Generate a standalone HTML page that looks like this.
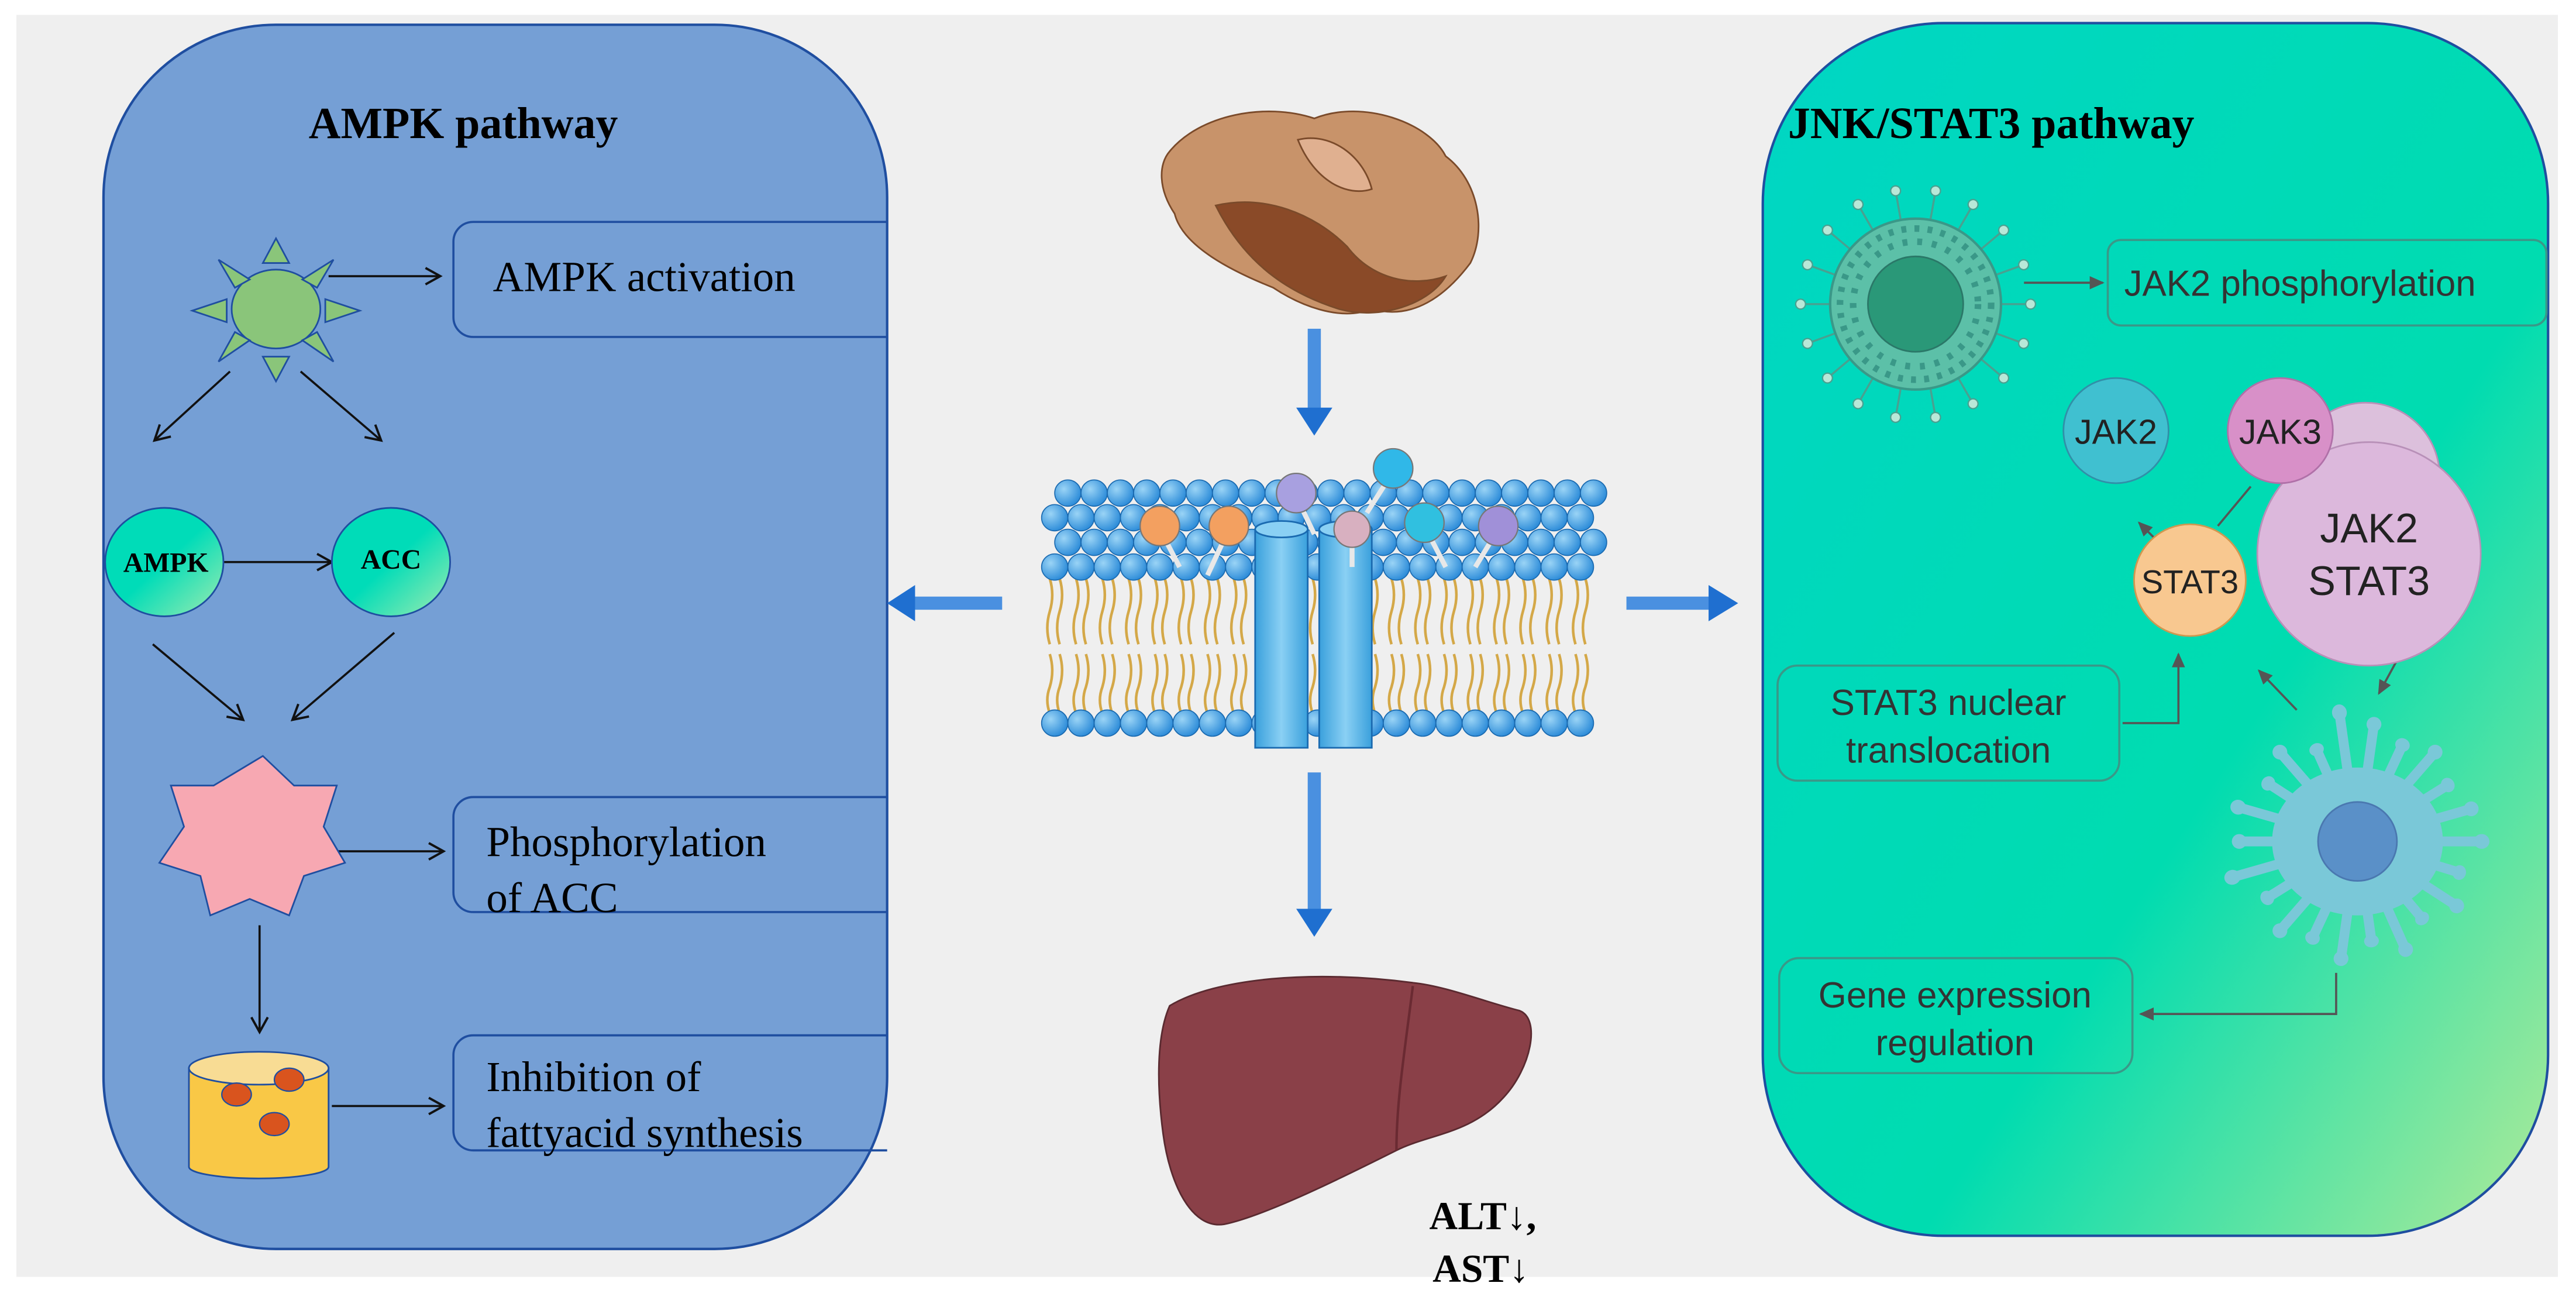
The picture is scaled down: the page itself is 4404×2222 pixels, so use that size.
<!DOCTYPE html>
<html><head><meta charset="utf-8"><style>
html,body{margin:0;padding:0;background:#fff;}
svg{display:block;}
.serif{font-family:"Liberation Serif",serif;}
.sans{font-family:"Liberation Sans",sans-serif;}
</style></head><body>
<svg width="4404" height="2222" viewBox="0 0 1568 791" xmlns="http://www.w3.org/2000/svg" xmlns:xlink="http://www.w3.org/1999/xlink">
<defs>
<marker id="ah" markerWidth="12" markerHeight="12" refX="10" refY="6" orient="auto" markerUnits="userSpaceOnUse"><path d="M1,1 L10,6 L1,11" fill="none" stroke="#111" stroke-width="1.4"/></marker>
<marker id="gh" markerWidth="10" markerHeight="10" refX="8" refY="5" orient="auto" markerUnits="userSpaceOnUse"><path d="M0,1 L9,5 L0,9 Z" fill="#555"/></marker>
<linearGradient id="tg" x1="0" y1="0" x2="1" y2="1"><stop offset="0.5" stop-color="#00dcb8"/><stop offset="1" stop-color="#a0ecb0"/></linearGradient>
<linearGradient id="rp" x1="0" y1="0" x2="1" y2="1"><stop offset="0" stop-color="#00d6c4"/><stop offset="0.6" stop-color="#00dcb0"/><stop offset="1" stop-color="#b0ea98"/></linearGradient>
<radialGradient id="bh" cx="0.35" cy="0.35" r="0.7"><stop offset="0" stop-color="#9ad4f6"/><stop offset="1" stop-color="#2a8ad8"/></radialGradient>
<linearGradient id="ch" x1="0" y1="0" x2="1" y2="0"><stop offset="0" stop-color="#3aa0dc"/><stop offset="0.5" stop-color="#8ad0f4"/><stop offset="1" stop-color="#3aa0dc"/></linearGradient>
<g id="hd"><circle cx="0" cy="0" r="8" fill="url(#bh)" stroke="#1a6ab0" stroke-width="0.6"/></g>
<g id="row">
<use xlink:href="#hd" x="0"/><use xlink:href="#hd" x="16"/><use xlink:href="#hd" x="32"/><use xlink:href="#hd" x="48"/><use xlink:href="#hd" x="64"/><use xlink:href="#hd" x="80"/><use xlink:href="#hd" x="96"/><use xlink:href="#hd" x="112"/><use xlink:href="#hd" x="128"/><use xlink:href="#hd" x="144"/><use xlink:href="#hd" x="160"/><use xlink:href="#hd" x="176"/><use xlink:href="#hd" x="192"/><use xlink:href="#hd" x="208"/><use xlink:href="#hd" x="224"/><use xlink:href="#hd" x="240"/><use xlink:href="#hd" x="256"/><use xlink:href="#hd" x="272"/><use xlink:href="#hd" x="288"/><use xlink:href="#hd" x="304"/><use xlink:href="#hd" x="320"/>
</g>
<path id="tl" d="M639,352 q3,10 0,20 q-3,10 0,20 M645,352 q3,10 0,20 q-3,10 0,20 M639,398 q3,10 0,20 q-3,8 0,16 M645,398 q3,10 0,20 q-3,8 0,16" fill="none" stroke="#d4a848" stroke-width="1.6"/>
<g id="sp1"><line x1="50" y1="0" x2="68" y2="0" stroke="#4aa090" stroke-width="1.2"/><circle cx="70" cy="0" r="3" fill="#b8e8d8" stroke="#4aa090" stroke-width="0.8"/></g>
<g id="sp2"><line x1="0" y1="0" x2="72" y2="0" stroke="#7ac8d8" stroke-width="6" stroke-linecap="round"/><circle cx="72" cy="0" r="4.5" fill="#7ac8d8"/></g>
</defs>
<rect x="10" y="9" width="1547" height="768" fill="#efefef"/>

<!-- LEFT PANEL -->
<rect x="63" y="15" width="477" height="745" rx="105" fill="#759fd5" stroke="#1f4ea0" stroke-width="1.5"/>
<text x="282" y="84" class="serif" font-size="27" font-weight="bold" text-anchor="middle">AMPK pathway</text>

<g stroke="#1f4ea0" stroke-width="1">
<ellipse cx="168" cy="188" rx="27" ry="24" fill="#8ac57a"/>
<g fill="#8ac57a">
<polygon points="168,145 160,160 176,160"/>
<polygon points="168,232 160,217 176,217"/>
<polygon points="117,189 138,182 138,196"/>
<polygon points="219,189 198,182 198,196"/>
<polygon points="133,158 152,170 143,175"/><polygon points="203,158 184,170 193,175"/>
<polygon points="133,220 152,207 143,202"/><polygon points="203,220 184,207 193,202"/>
</g></g>
<g stroke="#111" stroke-width="1.3" fill="none" marker-end="url(#ah)">
<line x1="200" y1="168" x2="268" y2="168"/>
<line x1="140" y1="226" x2="94" y2="268"/>
<line x1="183" y1="226" x2="232" y2="268"/>
<line x1="136" y1="342" x2="202" y2="342"/>
<line x1="93" y1="392" x2="148" y2="438"/>
<line x1="240" y1="385" x2="178" y2="438"/>
<line x1="203" y1="518" x2="270" y2="518"/>
<line x1="158" y1="563" x2="158" y2="628"/>
<line x1="202" y1="673" x2="270" y2="673"/>
</g>
<g fill="none" stroke="#1f4ea0" stroke-width="1.3">
<path d="M540,135 H288 a12,12 0 0 0 -12,12 V193 a12,12 0 0 0 12,12 H540"/>
<path d="M540,485 H288 a12,12 0 0 0 -12,12 V543 a12,12 0 0 0 12,12 H540"/>
<path d="M540,630 H288 a12,12 0 0 0 -12,12 V688 a12,12 0 0 0 12,12 H540"/>
</g>
<text x="300" y="177" class="serif" font-size="26">AMPK activation</text>
<text x="296" y="521" class="serif" font-size="26">Phosphorylation</text>
<text x="296" y="555" class="serif" font-size="26">of ACC</text>
<text x="296" y="664" class="serif" font-size="26">Inhibition of</text>
<text x="296" y="698" class="serif" font-size="26">fattyacid synthesis</text>

<ellipse cx="100" cy="342" rx="36" ry="33" fill="url(#tg)" stroke="#1f4ea0" stroke-width="1"/>
<ellipse cx="238" cy="342" rx="36" ry="33" fill="url(#tg)" stroke="#1f4ea0" stroke-width="1"/>
<text x="101" y="348" class="serif" font-size="17" font-weight="bold" text-anchor="middle">AMPK</text>
<text x="238" y="346" class="serif" font-size="17" font-weight="bold" text-anchor="middle">ACC</text>

<polygon points="160,460 179,478 205,478 197,503 210,525 185,533 176,557 152,547 128,557 122,533 97,525 112,503 104,478 130,478" fill="#f7a8b2" stroke="#1f4ea0" stroke-width="1"/>

<path d="M115,650 L115,710 A42,7 0 0 0 200,710 L200,650 Z" fill="#f9c846" stroke="#1f4ea0" stroke-width="1"/>
<ellipse cx="157.5" cy="650" rx="42.5" ry="10" fill="#f8dc94" stroke="#1f4ea0" stroke-width="1"/>
<g fill="#d9541e" stroke="#1f4ea0" stroke-width="0.8">
<ellipse cx="176" cy="657" rx="9" ry="7"/><ellipse cx="144" cy="666" rx="9" ry="7"/><ellipse cx="167" cy="684" rx="9" ry="7"/>
</g>

<!-- CENTER -->
<g stroke="#7a4a2a" stroke-width="1">
<path d="M712,92 C730,70 770,62 800,72 C830,60 870,75 880,95 C900,110 905,140 895,160 C880,180 860,195 835,188 C815,196 790,185 775,175 C750,165 720,150 715,130 C705,115 705,100 712,92 Z" fill="#c8936a"/>
<path d="M740,125 C770,118 800,130 820,150 C835,170 860,175 880,168 C870,185 840,195 815,188 C790,180 760,165 740,125 Z" fill="#8a4a28"/>
<path d="M790,85 C810,80 830,95 835,115 C820,120 800,110 790,85 Z" fill="#e0b090"/>
</g>
<rect x="796" y="200" width="8" height="50" fill="#4a90e0"/>
<polygon points="789,248 811,248 800,265" fill="#1f6fd0"/>
<rect x="796" y="470" width="8" height="85" fill="#4a90e0"/>
<polygon points="789,553 811,553 800,570" fill="#1f6fd0"/>
<rect x="555" y="363" width="55" height="8" fill="#4a90e0"/>
<polygon points="557,356 557,378 540,367" fill="#1f6fd0"/>
<rect x="990" y="363" width="52" height="8" fill="#4a90e0"/>
<polygon points="1040,356 1040,378 1058,367" fill="#1f6fd0"/>

<!-- membrane -->
<use xlink:href="#tl" x="0"/>
<use xlink:href="#tl" x="16"/><use xlink:href="#tl" x="32"/><use xlink:href="#tl" x="48"/><use xlink:href="#tl" x="64"/><use xlink:href="#tl" x="80"/><use xlink:href="#tl" x="96"/><use xlink:href="#tl" x="112"/><use xlink:href="#tl" x="128"/><use xlink:href="#tl" x="144"/><use xlink:href="#tl" x="160"/><use xlink:href="#tl" x="176"/><use xlink:href="#tl" x="192"/><use xlink:href="#tl" x="208"/><use xlink:href="#tl" x="224"/><use xlink:href="#tl" x="240"/><use xlink:href="#tl" x="256"/><use xlink:href="#tl" x="272"/><use xlink:href="#tl" x="288"/><use xlink:href="#tl" x="304"/><use xlink:href="#tl" x="320"/>
<use xlink:href="#row" x="650" y="300"/>
<use xlink:href="#row" x="642" y="315"/>
<use xlink:href="#row" x="650" y="330"/>
<use xlink:href="#row" x="642" y="345"/>
<use xlink:href="#row" x="642" y="440"/>
<g>
<rect x="764" y="322" width="32" height="133" fill="url(#ch)" stroke="#1a6ab0"/>
<ellipse cx="780" cy="322" rx="16" ry="5" fill="#8ad0f4" stroke="#1a6ab0"/>
<rect x="803" y="322" width="32" height="133" fill="url(#ch)" stroke="#1a6ab0"/>
<ellipse cx="819" cy="322" rx="16" ry="5" fill="#8ad0f4" stroke="#1a6ab0"/>
</g>
<g stroke="#e8e8e8" stroke-width="3">
<line x1="706" y1="322" x2="718" y2="345"/><line x1="748" y1="322" x2="735" y2="350"/>
<line x1="789" y1="302" x2="800" y2="325"/><line x1="848" y1="287" x2="832" y2="312"/>
<line x1="823" y1="324" x2="823" y2="345"/><line x1="867" y1="320" x2="880" y2="345"/>
<line x1="912" y1="322" x2="898" y2="345"/>
</g>
<g stroke="#777" stroke-width="0.8">
<circle cx="706" cy="320" r="12" fill="#f3a060"/><circle cx="748" cy="320" r="12" fill="#f3a060"/>
<circle cx="789" cy="300" r="12" fill="#a8a0e0"/><circle cx="848" cy="285" r="12" fill="#30b8e8"/>
<circle cx="823" cy="322" r="11" fill="#d8b0c0"/><circle cx="867" cy="318" r="12" fill="#30c0e0"/>
<circle cx="912" cy="320" r="12" fill="#a090d8"/>
</g>

<!-- liver -->
<path d="M712,612 C740,595 800,590 860,598 C880,600 905,610 925,615 C938,620 932,650 915,668 C895,690 870,690 850,700 C820,715 770,740 745,745 C725,748 712,720 708,690 C704,660 704,630 712,612 Z" fill="#8a4048" stroke="#5a2a30" stroke-width="1"/>
<path d="M860,600 C855,640 850,670 850,700" fill="none" stroke="#6a2a32" stroke-width="1.5"/>
<text x="870" y="748" class="serif" font-size="24" font-weight="bold">ALT↓,</text>
<text x="872" y="780" class="serif" font-size="24" font-weight="bold">AST↓</text>

<!-- RIGHT PANEL -->
<rect x="1073" y="14" width="478" height="738" rx="110" fill="url(#rp)" stroke="#1f4ea0" stroke-width="1.5"/>
<text x="1212" y="84" class="serif" font-size="27" font-weight="bold" text-anchor="middle">JNK/STAT3 pathway</text>

<!-- cell 1 -->
<g transform="translate(1166,185)">
<use xlink:href="#sp1" transform="rotate(0)"/><use xlink:href="#sp1" transform="rotate(20)"/><use xlink:href="#sp1" transform="rotate(40)"/><use xlink:href="#sp1" transform="rotate(60)"/><use xlink:href="#sp1" transform="rotate(80)"/><use xlink:href="#sp1" transform="rotate(100)"/><use xlink:href="#sp1" transform="rotate(120)"/><use xlink:href="#sp1" transform="rotate(140)"/><use xlink:href="#sp1" transform="rotate(160)"/><use xlink:href="#sp1" transform="rotate(180)"/><use xlink:href="#sp1" transform="rotate(200)"/><use xlink:href="#sp1" transform="rotate(220)"/><use xlink:href="#sp1" transform="rotate(240)"/><use xlink:href="#sp1" transform="rotate(260)"/><use xlink:href="#sp1" transform="rotate(280)"/><use xlink:href="#sp1" transform="rotate(300)"/><use xlink:href="#sp1" transform="rotate(320)"/><use xlink:href="#sp1" transform="rotate(340)"/>
<circle r="52" fill="#5cc0a8" stroke="#3a9888" stroke-width="1.5"/>
<circle r="46" fill="none" stroke="#3a9888" stroke-width="4" stroke-dasharray="3 5"/>
<circle r="38" fill="none" stroke="#3a9888" stroke-width="4" stroke-dasharray="3 6"/>
<circle r="29" fill="#2a9878" stroke="#2a7868"/>
</g>
<!-- cell 2 -->
<g transform="translate(1435,512)">
<use xlink:href="#sp2" transform="rotate(0) scale(1.05,1)"/><use xlink:href="#sp2" transform="rotate(17) scale(0.9,1)"/><use xlink:href="#sp2" transform="rotate(33)"/><use xlink:href="#sp2" transform="rotate(50) scale(0.85,1)"/><use xlink:href="#sp2" transform="rotate(66)"/><use xlink:href="#sp2" transform="rotate(82) scale(0.85,1)"/><use xlink:href="#sp2" transform="rotate(98)"/><use xlink:href="#sp2" transform="rotate(115) scale(0.9,1)"/><use xlink:href="#sp2" transform="rotate(131)"/><use xlink:href="#sp2" transform="rotate(148) scale(0.9,1)"/><use xlink:href="#sp2" transform="rotate(164) scale(1.1,1)"/><use xlink:href="#sp2" transform="rotate(180)"/><use xlink:href="#sp2" transform="rotate(196) scale(1.05,1)"/><use xlink:href="#sp2" transform="rotate(213) scale(0.9,1)"/><use xlink:href="#sp2" transform="rotate(229)"/><use xlink:href="#sp2" transform="rotate(246) scale(0.85,1)"/><use xlink:href="#sp2" transform="rotate(262) scale(1.1,1)"/><use xlink:href="#sp2" transform="rotate(278)"/><use xlink:href="#sp2" transform="rotate(295) scale(0.9,1)"/><use xlink:href="#sp2" transform="rotate(311)"/><use xlink:href="#sp2" transform="rotate(328) scale(0.9,1)"/><use xlink:href="#sp2" transform="rotate(344)"/>
<ellipse rx="52" ry="45" fill="#7ac8d8"/>
<circle r="24" fill="#5a90c8" stroke="#4a78b0"/>
</g>

<g stroke="#555" stroke-width="1.3" fill="none">
<line x1="1232" y1="172" x2="1280" y2="172" marker-end="url(#gh)"/>
<line x1="1314" y1="330" x2="1302" y2="318" marker-end="url(#gh)"/>
<line x1="1350" y1="320" x2="1370" y2="296"/>
<path d="M1420,262 L1433,262 L1440,270" marker-end="url(#gh)"/>
<path d="M1292,440 L1326,440 L1326,398" marker-end="url(#gh)"/>
<line x1="1398" y1="432" x2="1375" y2="408" marker-end="url(#gh)"/>
<line x1="1460" y1="400" x2="1448" y2="422" marker-end="url(#gh)"/>
<path d="M1422,592 L1422,617 L1303,617" marker-end="url(#gh)"/>
</g>
<circle cx="1440" cy="290" r="45" fill="#dcc0dc" stroke="#b890b8"/>
<circle cx="1442" cy="337" r="68" fill="#dcb8dc" stroke="#b890b8"/>
<text x="1442" y="330" class="sans" font-size="25" text-anchor="middle" fill="#222">JAK2</text>
<text x="1442" y="362" class="sans" font-size="25" text-anchor="middle" fill="#222">STAT3</text>
<circle cx="1288" cy="262" r="32" fill="#40c0d0" stroke="#3090a8"/>
<text x="1288" y="270" class="sans" font-size="21" text-anchor="middle" fill="#222">JAK2</text>
<circle cx="1388" cy="262" r="32" fill="#d890c8" stroke="#b070a8"/>
<text x="1388" y="270" class="sans" font-size="21" text-anchor="middle" fill="#222">JAK3</text>
<circle cx="1333" cy="353" r="34" fill="#f8c890" stroke="#d09850"/>
<text x="1333" y="361" class="sans" font-size="20" text-anchor="middle" fill="#222">STAT3</text>

<g fill="none" stroke="#3a9888" stroke-width="1.3">
<rect x="1283" y="146" width="267" height="52" rx="8"/>
<rect x="1082" y="405" width="208" height="70" rx="12"/>
<rect x="1083" y="583" width="215" height="70" rx="12"/>
</g>
<text x="1293" y="180" class="sans" font-size="22" fill="#333">JAK2 phosphorylation</text>
<text x="1186" y="435" class="sans" font-size="22" fill="#333" text-anchor="middle">STAT3 nuclear</text>
<text x="1186" y="464" class="sans" font-size="22" fill="#333" text-anchor="middle">translocation</text>
<text x="1190" y="613" class="sans" font-size="22" fill="#333" text-anchor="middle">Gene expression</text>
<text x="1190" y="642" class="sans" font-size="22" fill="#333" text-anchor="middle">regulation</text>
</svg>
</body></html>
